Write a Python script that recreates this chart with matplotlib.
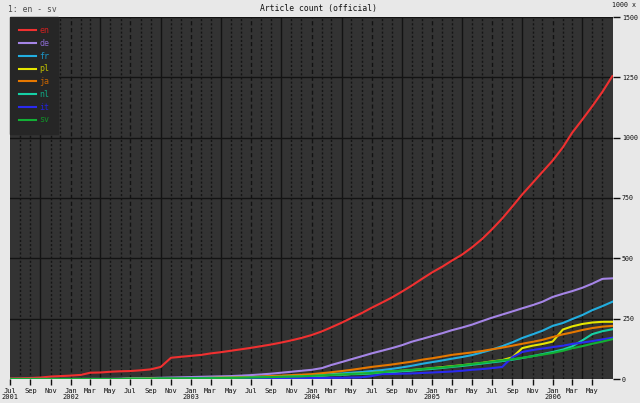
import matplotlib
matplotlib.use("Agg")
import matplotlib.pyplot as plt
import pandas as pd

# monthly samples, Jul 2001 .. Jul 2006 (thousands of articles)
months = pd.date_range("2001-07-01", "2006-07-01", freq="MS")

en = [2, 3, 4, 6, 10, 12, 14, 17, 26, 27, 30, 32, 33, 36, 40, 50, 88, 92, 96, 100,
      106, 111, 117, 123, 129, 136, 143, 151, 160, 170, 182, 197, 214, 233, 253, 273,
      295, 316, 338, 362, 388, 415, 442, 466, 490, 515, 545, 580, 620, 665, 715, 765,
      812, 858, 905, 960, 1020, 1075, 1130, 1190, 1255]
de = [0, 0, 0, 0, 0, 0, 0, 0, 0, 0, 0, 1, 2, 3, 4, 5, 6, 7, 8, 9,
      10, 11, 12, 14, 16, 19, 22, 26, 30, 34, 38, 45, 58, 70, 82, 94,
      106, 117, 128, 140, 155, 166, 178, 190, 202, 213, 225, 240, 254, 267, 280, 293,
      306, 320, 340, 353, 364, 378, 395, 415, 417]
fr = [0, 0, 0, 0, 0, 0, 0, 0, 0, 0, 0, 0, 1, 1, 2, 2, 3, 3, 4, 4,
      5, 5, 6, 7, 8, 9, 10, 11, 12, 14, 16, 18, 20, 23, 26, 29,
      33, 37, 42, 48, 55, 63, 70, 77, 84, 91, 99, 110, 122, 136, 152, 170,
      185, 200, 220, 232, 248, 265, 285, 302, 320]
pl = [0, 0, 0, 0, 0, 0, 0, 0, 0, 0, 0, 0, 1, 1, 2, 2, 3, 3, 3, 4,
      4, 5, 5, 6, 7, 8, 9, 10, 11, 12, 13, 15, 17, 19, 21, 23,
      25, 28, 31, 34, 37, 41, 45, 49, 53, 57, 62, 67, 73, 78, 90, 128,
      138, 145, 155, 205, 218, 228, 234, 237, 237]
ja = [0, 0, 0, 0, 0, 0, 0, 0, 0, 0, 0, 0, 1, 1, 2, 2, 3, 3, 4, 4,
      5, 5, 6, 7, 8, 10, 12, 14, 16, 18, 20, 24, 28, 33, 38, 44,
      50, 55, 60, 66, 72, 80, 86, 93, 100, 105, 110, 116, 123, 130, 138, 146,
      154, 162, 174, 185, 193, 203, 211, 217, 220]
nl = [0, 0, 0, 0, 0, 0, 0, 0, 0, 0, 0, 0, 1, 1, 1, 2, 2, 2, 3, 3,
      4, 4, 5, 5, 6, 7, 8, 9, 10, 11, 12, 14, 16, 18, 20, 21,
      23, 26, 29, 32, 35, 39, 42, 46, 50, 54, 59, 64, 69, 74, 80, 87,
      95, 103, 112, 122, 135, 160, 186, 198, 206]
it = [0, 0, 0, 0, 0, 0, 0, 0, 0, 0, 0, 0, 0, 0, 0, 1, 1, 1, 1, 1,
      1, 1, 2, 2, 2, 2, 3, 3, 3, 3, 4, 4, 5, 5, 6, 7,
      12, 20, 21, 22, 23, 25, 27, 29, 31, 34, 38, 41, 45, 50, 90, 112,
      120, 126, 132, 138, 145, 151, 157, 164, 171]
sv = [0, 0, 0, 0, 0, 0, 0, 0, 0, 0, 0, 0, 1, 1, 1, 2, 2, 2, 3, 3,
      3, 4, 4, 5, 6, 7, 8, 9, 10, 11, 13, 15, 17, 19, 21, 23,
      25, 28, 32, 35, 38, 41, 45, 48, 52, 57, 62, 67, 72, 77, 82, 88,
      94, 101, 108, 117, 127, 136, 146, 155, 165]

langs = ["en", "de", "fr", "pl", "ja", "nl", "it", "sv"]
series = [en, de, fr, pl, ja, nl, it, sv]
line_colors = ["#f03030", "#a585e6", "#22aee0", "#e6e600", "#e67800",
               "#16d0a5", "#2a2af0", "#12b035"]
text_colors = ["#d02020", "#8a6ad0", "#1a96c8", "#c0c000", "#c86400",
               "#10a885", "#2222d8", "#109028"]

plt.rcParams["font.family"] = "DejaVu Sans Mono"

fig = plt.figure(figsize=(6.4, 4.03), dpi=100, facecolor="#e8e8e8")
ax = fig.add_axes([10 / 640, 24 / 403, 603 / 640, 362 / 403])
ax.set_facecolor("#333333")

ax.set_xlim(pd.Timestamp("2001-07-01"), pd.Timestamp("2006-07-03"))
ax.set_ylim(0, 1500)

# background grid: monthly dashed, Apr/Oct solid, every 250k solid
for d in pd.date_range("2001-08-01", "2006-06-01", freq="MS"):
    if d.month in (4, 10):
        ax.axvline(d, color="#131313", lw=1.0, zorder=1)
    elif d.month in (1, 7):
        ax.axvline(d, color="#121212", lw=1.0, ls=(0, (3, 2)), zorder=1)
    else:
        ax.axvline(d, color="#141414", lw=1.0, ls=(0, (1.5, 1.5)), zorder=1)
for yv in range(250, 1501, 250):
    ax.axhline(yv, color="#131313", lw=1.0, zorder=1)

for name, vals, c in zip(langs, series, line_colors):
    ax.plot(months, vals, color=c, lw=1.5, label=name, zorder=3)

for s in ax.spines.values():
    s.set_visible(False)

# x ticks every two months, year under Jan and the first tick
ticks = pd.date_range("2001-07-01", "2006-05-01", freq="2MS")
labels = []
for i, t in enumerate(ticks):
    lab = t.strftime("%b")
    if t.month == 1 or i == 0:
        lab += "\n" + t.strftime("%Y")
    labels.append(lab)
ax.set_xticks(ticks)
ax.set_xticklabels(labels, fontsize=5, color="#111111", linespacing=1.05, va="top")
ax.tick_params(axis="x", direction="out", length=4, width=1, color="#111111", pad=2.5)

ax.yaxis.tick_right()
ax.set_yticks(range(0, 1501, 250))
ax.set_yticklabels([str(v) for v in range(0, 1501, 250)], fontsize=4.8, color="#111111")
ax.tick_params(axis="y", direction="out", length=5, width=1, color="#111111", pad=1.5)

leg = ax.legend(loc="upper left", bbox_to_anchor=(0, 1), borderaxespad=0,
                fontsize=6, frameon=True, fancybox=False, facecolor="#262626",
                edgecolor="#262626", framealpha=1, handlelength=2.0,
                handletextpad=0.4, labelspacing=0.45, borderpad=1.1,
                labelcolor=text_colors)
leg.set_zorder(5)
for h in leg.get_lines():
    h.set_linewidth(1.5)

fig.text(0.497, 1 - 9 / 403, "Article count (official)", ha="center", va="center",
         fontsize=5.8, color="#111111")
fig.text(8 / 640, 1 - 9 / 403, "1: en - sv", ha="left", va="center",
         fontsize=5.8, color="#4a4a4a")
fig.text(636 / 640, 1 - 5 / 403, "1000 x", ha="right", va="center",
         fontsize=4.8, color="#111111")

fig.savefig("out.png", dpi=100, facecolor=fig.get_facecolor())
